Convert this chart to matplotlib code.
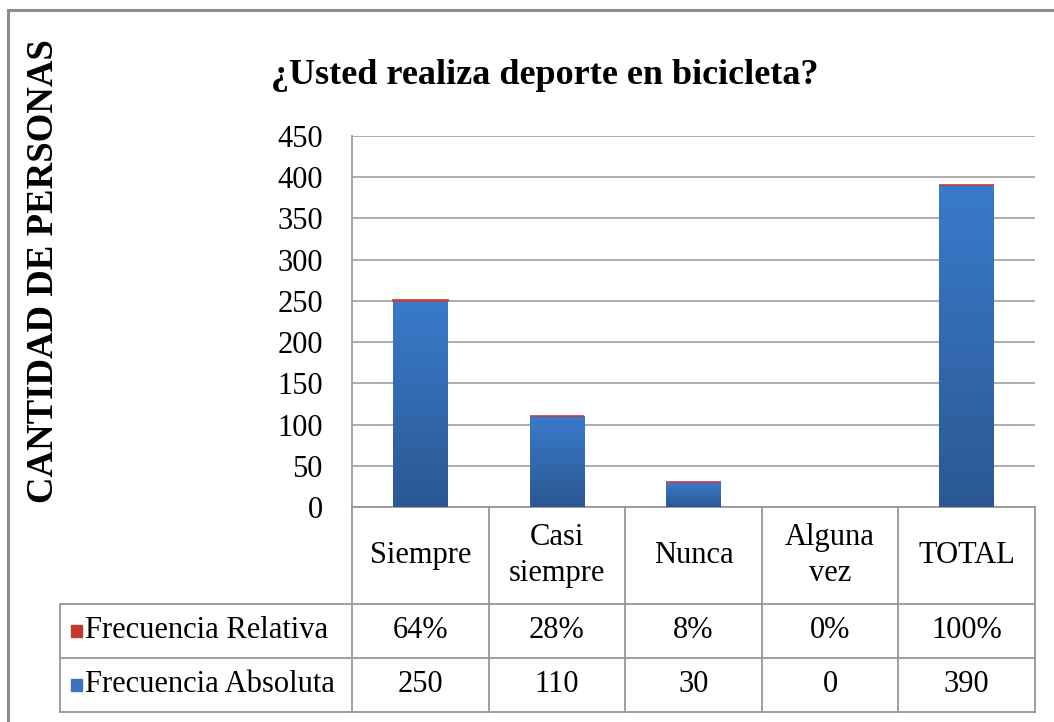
import numpy as np
import matplotlib
matplotlib.use('Agg')
import matplotlib.pyplot as plt
from matplotlib.transforms import blended_transform_factory
from matplotlib.patches import Rectangle

plt.rcParams['font.family'] = ['Liberation Serif', 'DejaVu Serif']

# datos
categorias = ['Siempre', 'Casi\nsiempre', 'Nunca', 'Alguna\nvez', 'TOTAL']
absoluta = [250, 110, 30, 0, 390]
relativa = [0.64, 0.28, 0.08, 0.0, 1.0]
etiq_relativa = ['64%', '28%', '8%', '0%', '100%']
etiq_absoluta = ['250', '110', '30', '0', '390']
series = ['Frecuencia Relativa', 'Frecuencia Absoluta']

W, H = 1054, 722
fig = plt.figure(figsize=(W / 100, H / 100), dpi=100)

# marco exterior
fig.patches.append(Rectangle((8 / W, -0.1), 1.2, (H - 10) / H + 0.1,
                             transform=fig.transFigure, fill=False,
                             edgecolor='#8c8c8c', linewidth=2.2))

ax = fig.add_axes([352 / W, (H - 507) / H, 683 / W, 371 / H])
x = np.arange(len(categorias))

barras = ax.bar(x, absoluta, width=0.4, color='#3469b0', zorder=3)
ax.bar(x, relativa, bottom=absoluta, width=0.4, color='#c0392b',
       edgecolor='#c43c3c', linewidth=[1.2 if r > 0 else 0 for r in relativa],
       zorder=4)

# degradado azul en cada barra
grad = np.linspace(0, 1, 256).reshape(-1, 1)
cmap = matplotlib.colors.LinearSegmentedColormap.from_list(
    'az', ['#2b5893', '#3a7acb'])
for b in barras:
    if b.get_height() <= 0:
        continue
    im = ax.imshow(grad, cmap=cmap, origin='lower', aspect='auto',
                   extent=[b.get_x(), b.get_x() + b.get_width(), 0, b.get_height()],
                   zorder=3.5)
    im.set_clip_path(b)

ax.set_xlim(-0.5, len(categorias) - 0.5)
ax.set_ylim(0, 450)
ax.set_yticks(np.arange(0, 451, 50))
ax.tick_params(axis='y', labelsize=22, length=0, pad=21)
ax.set_xticks([])
ax.grid(axis='y', color='#a6a6a6', linewidth=1.3, zorder=0)
for s in ['top', 'right', 'bottom']:
    ax.spines[s].set_visible(False)
ax.spines['left'].set_color('#9a9a9a')
ax.spines['left'].set_linewidth(1.3)

fig.text(545 / W, 1 - 75 / H, '¿Usted realiza deporte en bicicleta?',
         ha='center', va='center', fontsize=26, fontweight='bold')
fig.text(44 / W, 1 - 271 / H, 'CANTIDAD DE PERSONAS', rotation=90,
         ha='center', va='center', fontsize=26.5, fontweight='bold')

# tabla de datos
tr = blended_transform_factory(ax.transData, fig.transFigure)
lc = '#969696'
y0, y1, y2, y3 = [(H - v) / H for v in (507, 604, 658, 712)]
x_izq = -0.5 - (352 - 60) / (683 / len(categorias))
for xe in np.arange(-0.5, len(categorias), 1.0):
    ax.plot([xe, xe], [y0, y3], color=lc, lw=1.3, transform=tr, clip_on=False)
ax.plot([x_izq, x_izq], [y1, y3], color=lc, lw=1.3, transform=tr, clip_on=False)
ax.plot([-0.5, len(categorias) - 0.5], [y0, y0], color=lc, lw=1.3,
        transform=tr, clip_on=False)
for yy in (y1, y2, y3):
    ax.plot([x_izq, len(categorias) - 0.5], [yy, yy], color=lc, lw=1.3,
            transform=tr, clip_on=False)

fs = 22
for i, c in enumerate(categorias):
    ax.text(i, (y0 + y1) / 2, c, ha='center', va='center', fontsize=fs,
            transform=tr, linespacing=1.3)
    ax.text(i, (y1 + y2) / 2, etiq_relativa[i], ha='center', va='center',
            fontsize=fs, transform=tr)
    ax.text(i, (y2 + y3) / 2, etiq_absoluta[i], ha='center', va='center',
            fontsize=fs, transform=tr)

colores = ['#c0392b', '#3a72c0']
for yc, nombre, col in zip([(y1 + y2) / 2, (y2 + y3) / 2], series, colores):
    fig.patches.append(Rectangle((71 / W, yc - 6 / H), 11 / W, 12 / H,
                                 transform=fig.transFigure, color=col))
    fig.text(85 / W, yc, nombre, ha='left', va='center', fontsize=fs)

fig.savefig('out.png', dpi=100)
